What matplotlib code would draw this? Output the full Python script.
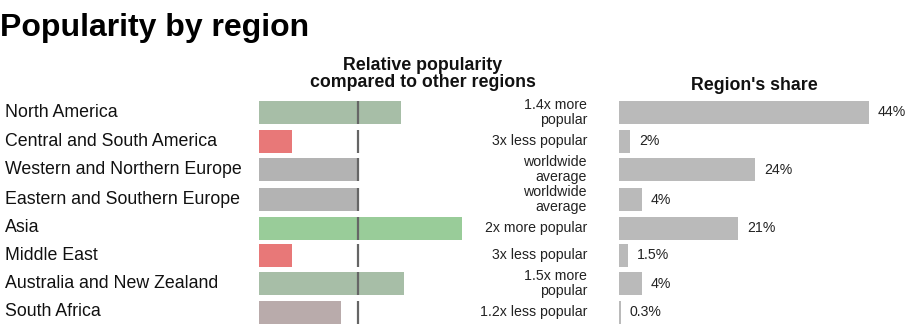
import matplotlib.pyplot as plt
from matplotlib import transforms

plt.rcParams['font.family'] = ['Liberation Sans', 'DejaVu Sans']

regions = ['North America', 'Central and South America', 'Western and Northern Europe',
           'Eastern and Southern Europe', 'Asia', 'Middle East',
           'Australia and New Zealand', 'South Africa']
# popularity relative to the worldwide average (1.0 = average)
relative = [1.43, 0.33, 1.0, 1.01, 2.05, 0.33, 1.46, 0.83]
relative_labels = ['1.4x more\npopular', '3x less popular', 'worldwide\naverage',
                   'worldwide\naverage', '2x more popular', '3x less popular',
                   '1.5x more\npopular', '1.2x less popular']
share = [44, 2, 24, 4, 21, 1.5, 4, 0.3]
share_labels = ['44%', '2%', '24%', '4%', '21%', '1.5%', '4%', '0.3%']

bar_colors = ['#a7bea7', '#e87878', '#b3b3b3', '#b3b3b3', '#99cc99', '#e87878',
              '#a7bea7', '#b9abab']

W, H = 916, 331
fig = plt.figure(figsize=(W / 100, H / 100), dpi=100)

# row centres in pixels from the top; two-line annotations get a bit more room
centers = []
y = 112.5
prev_half = None
for lab in relative_labels:
    half = 15 if '\n' in lab else 13.5
    if prev_half is not None:
        y += prev_half + half
    centers.append(y)
    prev_half = half
bar_h = 23

# left panel: 99 px per unit of relative popularity, starting at x=259
unit = 99
ax1 = fig.add_axes([259 / W, 0, (590 - 259) / W, 1])
ax1.set_xlim(0, (590 - 259) / unit)
ax1.set_ylim(H, 0)
ax1.axis('off')
ax1.barh(centers, relative, height=bar_h, color=bar_colors, left=0)
for c in centers:
    ax1.plot([1, 1], [c - bar_h / 2, c + bar_h / 2], color='#666666', lw=1.6,
             solid_capstyle='butt')

lab_tr = transforms.blended_transform_factory(fig.transFigure, ax1.transData)
for c, lab in zip(centers, relative_labels):
    fig.text(587 / W, c, lab, transform=lab_tr, ha='right', va='center',
             fontsize=10.2, color='#222222', linespacing=1.05)

# right panel: region's share of the total
ax2 = fig.add_axes([619 / W, 0, (W - 619) / W, 1])
ax2.set_xlim(0, (W - 619) / 5.68)
ax2.set_ylim(H, 0)
ax2.axis('off')
ax2.barh(centers, share, height=bar_h, color='#bababa')
for c, v, lab in zip(centers, share, share_labels):
    ax2.annotate(lab, (v, c), xytext=(9, 0), textcoords='offset pixels',
                 ha='left', va='center', fontsize=10.2, color='#222222')

# row names
for c, name in zip(centers, regions):
    fig.text(5 / W, 1 - c / H, name, ha='left', va='center', fontsize=12.8,
             color='#111111')

fig.text(0, 1 - 28 / H, 'Popularity by region', ha='left', va='center',
         fontsize=23, fontweight='bold', color='#000000')
fig.text(423 / W, 1 - 74 / H, 'Relative popularity\ncompared to other regions',
         ha='center', va='center', fontsize=12.8, fontweight='bold',
         color='#111111', linespacing=1.05)
fig.text(754 / W, 1 - 85 / H, "Region's share", ha='center', va='center',
         fontsize=12.8, fontweight='bold', color='#111111')

fig.savefig('out.png', dpi=100)
